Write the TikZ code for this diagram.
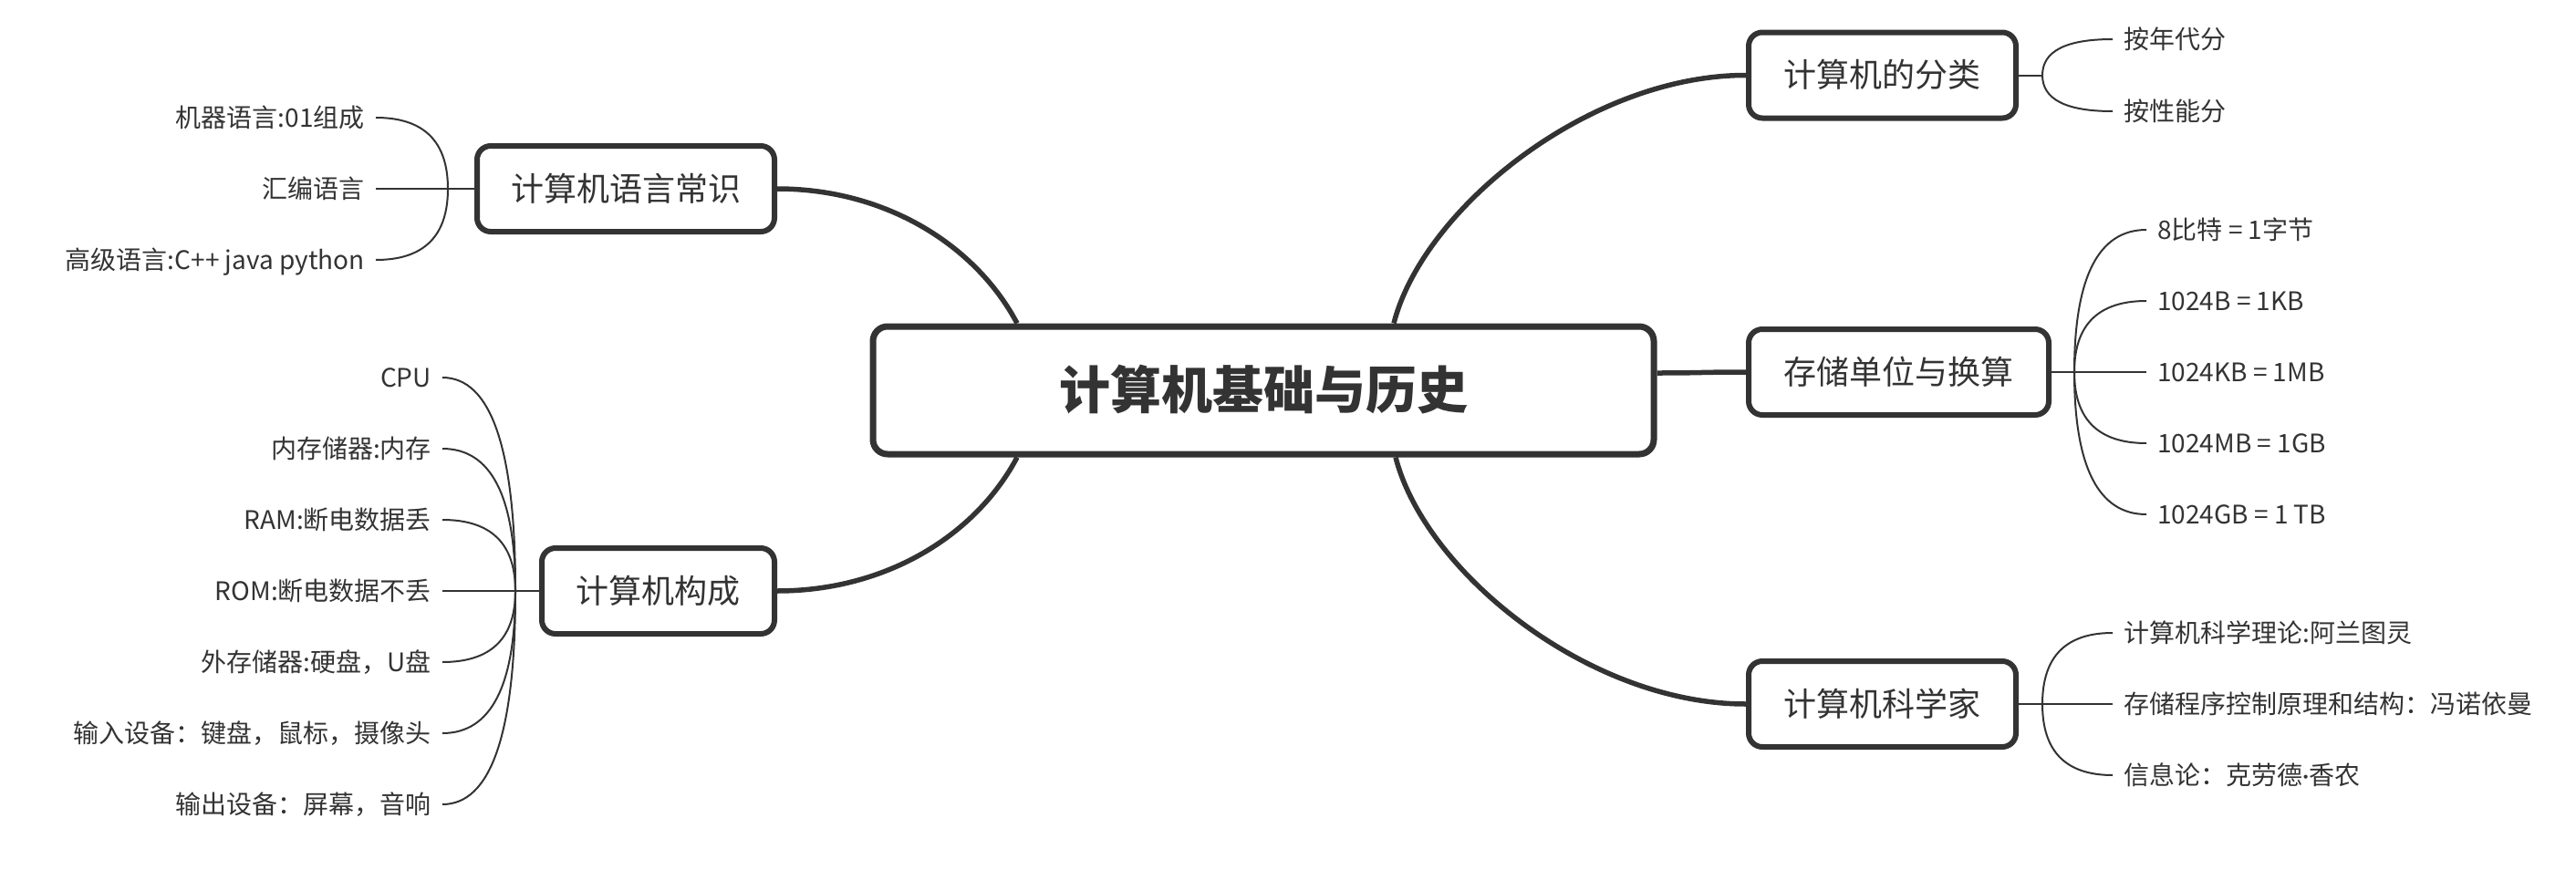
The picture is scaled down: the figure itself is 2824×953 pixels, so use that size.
\documentclass[tikz,border=0pt]{standalone}
\usepackage{fontspec}
\setmainfont{Noto Sans CJK SC}
\newfontfamily\latinfont{Lato}
\usetikzlibrary{calc,backgrounds}
\definecolor{ink}{HTML}{333333}
\begin{document}
\begin{tikzpicture}[x=1pt,y=-1pt,
  every node/.style={text=ink},
  rootbox/.style={draw=ink, line width=7pt, rounded corners=16pt, fill=white,
    minimum width=856pt, minimum height=140pt,
    font=\fontsize{56}{60}\selectfont\bfseries, text height=46pt, text depth=5pt},
  topic/.style={draw=ink, line width=6pt, rounded corners=15pt, fill=white,
    minimum height=94pt, font=\fontsize{36}{40}\selectfont,
    text height=30pt, text depth=4pt},
  leaf/.style={inner xsep=12pt, inner ysep=0pt, font=\fontsize{28}{30}\selectfont,
    text height=24pt, text depth=4pt},
  leafL/.style={leaf, anchor=east},
  leafR/.style={leaf, anchor=west},
  trunk/.style={draw=ink, line width=5.5pt},
  twig/.style={draw=ink, line width=2pt},
]
\useasboundingbox (0,0) rectangle (2824,953);

% central topic and main branches
\node[rootbox] (root) at (1385,428) {计算机基础与历史};
\node[topic, minimum width=326pt] (lang) at (686,207) {计算机语言常识};
\node[topic, minimum width=255pt] (comp) at (721.5,648) {计算机构成};
\node[topic, minimum width=293pt] (cls)  at (2063.5,82.5) {计算机的分类};
\node[topic, minimum width=329pt] (unit) at (2081.5,408) {存储单位与换算};
\node[topic, minimum width=293pt] (sci)  at (2063.5,772) {计算机科学家};

% junction points of the sub-branches
\coordinate (jl) at (491,207);
\coordinate (jm) at (565,648);
\coordinate (jc) at (2239,82.5);
\coordinate (ju) at (2274,408);
\coordinate (js) at (2239,772);

% leaves: computer languages
\node[leafL] (l1) at (412,129) {机器语言:01组成};
\node[leafL] (l2) at (412,207) {汇编语言};
\node[leafL] (l3) at (412,285) {高级语言:C++ java python};

% leaves: computer components
\node[leafL] (m1) at (485,414) {CPU};
\node[leafL] (m2) at (485,492) {内存储器:内存};
\node[leafL] (m3) at (485,570) {RAM:断电数据丢};
\node[leafL] (m4) at (485,648) {ROM:断电数据不丢};
\node[leafL] (m5) at (485,726) {外存储器:硬盘，U盘};
\node[leafL] (m6) at (485,804) {输入设备：键盘，鼠标，摄像头};
\node[leafL] (m7) at (485,882) {输出设备：屏幕，音响};

% leaves: classification
\node[leafR] (c1) at (2316,43) {按年代分};
\node[leafR] (c2) at (2316,122) {按性能分};

% leaves: storage units
\node[leafR] (u1) at (2353,252) {8比特 = 1字节};
\node[leafR] (u2) at (2353,330) {1024B = 1KB};
\node[leafR] (u3) at (2353,408) {1024KB = 1MB};
\node[leafR] (u4) at (2353,486) {1024MB = 1GB};
\node[leafR] (u5) at (2353,564) {1024GB = 1 TB};

% leaves: scientists
\node[leafR] (s1) at (2316,694) {计算机科学理论:阿兰图灵};
\node[leafR] (s2) at (2316,772) {存储程序控制原理和结构：冯诺依曼};
\node[leafR] (s3) at (2316,850) {信息论：克劳德{\latinfont ·}香农};

% quadratic curve from a junction to a leaf end, bending through the corner
\tikzset{twigto/.style n args={2}{insert path={
  (#1) .. controls ($(#1)!2/3!(#1 |- #2)$) and ($(#2)!2/3!(#1 |- #2)$) .. (#2)}}}

\begin{scope}[on background layer]
  % main branches from the central topic
  \draw[trunk] ($(root.north)+(143,0)$) .. controls +(32,-125) and +(-173,0) .. (cls.west);
  \draw[trunk] ($(root.south)+(145,0)$) .. controls +(32,125) and +(-173,0) .. (sci.west);
  \draw[trunk] ($(root.north)+(-270,0)$) .. controls +(-45,-85) and +(120,0) .. (lang.east);
  \draw[trunk] ($(root.south)+(-270,0)$) .. controls +(-45,85) and +(120,0) .. (comp.east);
  \draw[trunk] ($(root.east)+(0,-19)$) .. controls +(50,0) and +(-50,0) .. (unit.west);

  % sub-branches
  \draw[twig] (lang.west) -- (jl);
  \foreach \n in {l1,l2,l3} \draw[twig, twigto={jl}{\n.east}];
  \draw[twig] (comp.west) -- (jm);
  \foreach \n in {m1,m2,m3,m4,m5,m6,m7} \draw[twig, twigto={jm}{\n.east}];
  \draw[twig] (cls.east) -- (jc);
  \foreach \n in {c1,c2} \draw[twig, twigto={jc}{\n.west}];
  \draw[twig] (unit.east) -- (ju);
  \foreach \n in {u1,u2,u3,u4,u5} \draw[twig, twigto={ju}{\n.west}];
  \draw[twig] (sci.east) -- (js);
  \foreach \n in {s1,s2,s3} \draw[twig, twigto={js}{\n.west}];
\end{scope}
\end{tikzpicture}
\end{document}
